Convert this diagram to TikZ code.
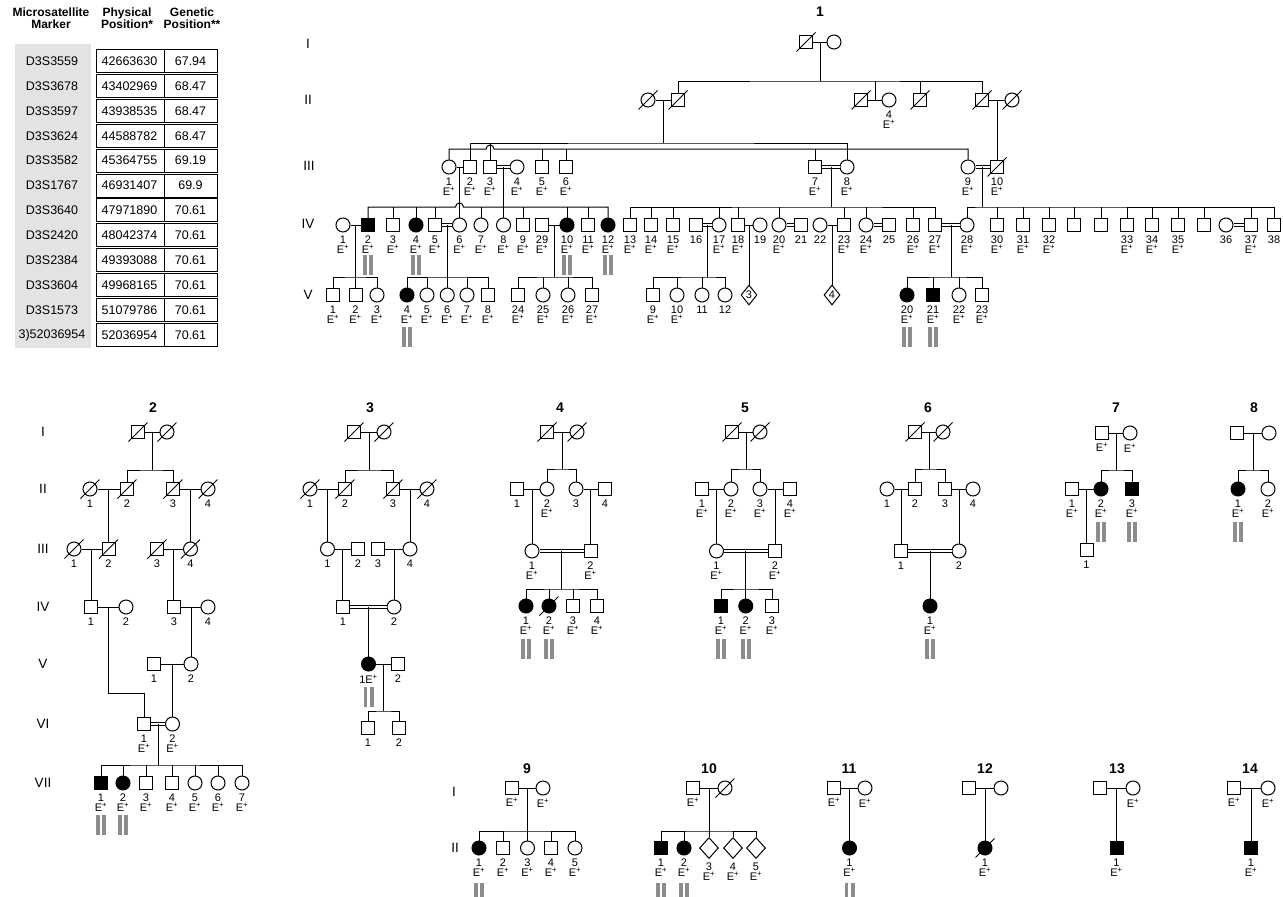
\documentclass[tikz,border=0pt]{standalone}
\usepackage{fontspec}
\setmainfont{Liberation Sans}
\usetikzlibrary{shapes.geometric,calc}
\newcommand{\Ep}{E\textsuperscript{+}}
\newcommand{\deceased}[1]{\draw ([shift={(-9.5,9.5)}]#1.center) -- ([shift={(9.5,-9.5)}]#1.center);}
\newcommand{\grbars}[2][32]{%
  \fill[bar] ([shift={(-5,#1)}]#2.center) rectangle ++(3.8,20);
  \fill[bar] ([shift={(1.2,#1)}]#2.center) rectangle ++(3.8,20);}

\begin{document}
\begin{tikzpicture}[x=1pt, y=-1pt, line width=1pt, label distance=2.5pt,
  every node/.style={font=\fontsize{11}{10}\selectfont},
  male/.style={draw, rectangle, minimum size=13, inner sep=0},
  fem/.style={draw, circle, minimum size=14, inner sep=0},
  unk/.style={draw, diamond, minimum width=16, minimum height=20, inner sep=0},
  aff/.style={fill=black},
  lab/.style={align=center, inner sep=0.5pt},
  id/.style={label={[lab]below:#1}},
  cons/.style={double, double distance=1.6pt},
  gen/.style={font=\fontsize{13.5}{13.5}\selectfont},
  ttl/.style={font=\bfseries\fontsize{14}{14}\selectfont},
  hdr/.style={align=center, font=\bfseries\fontsize{12}{12.5}\selectfont},
  cell/.style={font=\fontsize{12.5}{12.5}\selectfont},
  bar/.style={fill=black!45}]
\useasboundingbox (0,0) rectangle (1283,897);

% marker table
\fill[gray!22] (15,44) rectangle (91,348);
\node[hdr] (tb-h1) at (51,18) {Microsatellite\\Marker};
\node[hdr] (tb-h2) at (127,18) {Physical\\Position*};
\node[hdr] (tb-h3) at (192,18) {Genetic\\Position**};
\foreach \mk/\ph/\gp [count=\i from 0] in {D3S3559/42663630/67.94, D3S3678/43402969/68.47,
    D3S3597/43938535/68.47, D3S3624/44588782/68.47, D3S3582/45364755/69.19,
    D3S1767/46931407/69.9, D3S3640/47971890/70.61, D3S2420/48042374/70.61,
    D3S2384/49393088/70.61, D3S3604/49968165/70.61, D3S1573/51079786/70.61,
    3)52036954/52036954/70.61} {
  \draw (96,{49.5+24.9*\i}) rectangle (217,{72.5+24.9*\i});
  \draw (164,{49.5+24.9*\i}) -- (164,{72.5+24.9*\i});
  \node[cell] (tb-m\i) at (52,{61+24.9*\i}) {\mk};
  \node[cell] (tb-p\i) at (129.5,{61+24.9*\i}) {\ph};
  \node[cell] (tb-g\i) at (190.5,{61+24.9*\i}) {\gp};
}

% pedigree 1
\node[ttl] (p1-t) at (820,12) {1};
\node[gen] (p1-gI) at (308,44) {I};
\node[gen] (p1-gII) at (308,100) {II};
\node[gen] (p1-gIII) at (309,166) {III};
\node[gen] (p1-gIV) at (308,224) {IV};
\node[gen] (p1-gV) at (308,295) {V};

\node[male] (p1-I-1) at (806,42) {}; \deceased{p1-I-1}
\node[fem] (p1-I-2) at (834,42) {};

\node[fem] (p1-II-1) at (648,100) {};
\node[male] (p1-II-2) at (678,100) {};
\node[male] (p1-II-3) at (861,100) {};
\node[fem, id={4\\\Ep}] (p1-II-4) at (889,100) {};
\node[male] (p1-II-5) at (920,100) {};
\node[male] (p1-II-6) at (982,100) {};
\node[fem] (p1-II-7) at (1012,100) {};
\foreach \p in {p1-II-1,p1-II-2,p1-II-3,p1-II-5,p1-II-6,p1-II-7} {\deceased{\p}}

\draw (p1-I-1) -- (p1-I-2);
\coordinate (p1-m1) at ($(p1-I-1)!.5!(p1-I-2)$);
\draw (p1-m1) -- (p1-m1 |- 0,81);
\draw (p1-II-2.north) |- (p1-m1 |- 0,81) -| (p1-II-6.north);
\draw (p1-II-5.north) -- (p1-II-5.north |- 0,81);
\draw (p1-II-1) -- (p1-II-2);
\draw (p1-II-3) -- (p1-II-4);
\draw (p1-II-6) -- (p1-II-7);
\coordinate (p1-m2) at ($(p1-II-3)!.5!(p1-II-4)$);
\draw (p1-m2) -- (p1-m2 |- 0,81);

\node[fem, id={1\\\Ep}] (p1-III-1) at (449,167) {};
\node[male, id={2\\\Ep}] (p1-III-2) at (470,167) {};
\node[male, id={3\\\Ep}] (p1-III-3) at (490,167) {};
\node[fem, id={4\\\Ep}] (p1-III-4) at (517,167) {};
\node[male, id={5\\\Ep}] (p1-III-5) at (542,167) {};
\node[male, id={6\\\Ep}] (p1-III-6) at (566,167) {};
\node[male, id={7\\\Ep}] (p1-III-7) at (815,167) {};
\node[fem, id={8\\\Ep}] (p1-III-8) at (847,167) {};
\node[fem, id={9\\\Ep}] (p1-III-9) at (968,167) {};
\node[male, id={10\\\Ep}] (p1-III-10) at (997,167) {}; \deceased{p1-III-10}

\coordinate (p1-m3) at ($(p1-II-1)!.5!(p1-II-2)$);
\draw (p1-m3) -- (p1-m3 |- 0,143);
\draw (p1-III-2.north) |- (p1-m3 |- 0,143) -| (p1-III-8.north);
\draw (p1-III-3.north) -- (p1-III-3.north |- 0,143);
\draw (p1-III-1.north) |- ([xshift=-4pt]p1-III-3.north |- 0,149)
  arc[start angle=180, end angle=0, radius=4pt] -| (p1-III-9.north);
\foreach \c in {p1-III-5,p1-III-6,p1-III-7} \draw (\c.north) -- (\c.north |- 0,149);
\coordinate (p1-m4) at ($(p1-II-6)!.5!(p1-II-7)$);
\draw (p1-m4) -- (p1-m4 |- p1-III-10.north);
\draw (p1-III-1) -- (p1-III-2);
\draw[cons] (p1-III-3) -- (p1-III-4);
\draw[cons] (p1-III-7) -- (p1-III-8);
\draw[cons] (p1-III-9) -- (p1-III-10);

% generation IV
\node[fem, id={1\\\Ep}] (p1-IV-1) at (343,225) {};
\node[male, aff, id={2\\\Ep}] (p1-IV-2) at (368,225) {};
\node[male, id={3\\\Ep}] (p1-IV-3) at (393,225) {};
\node[fem, aff, id={4\\\Ep}] (p1-IV-4) at (416,225) {};
\node[male, id={5\\\Ep}] (p1-IV-5) at (435,225) {};
\node[fem, id={6\\\Ep}] (p1-IV-6) at (459.5,225) {};
\node[fem, id={7\\\Ep}] (p1-IV-7) at (481,225) {};
\node[fem, id={8\\\Ep}] (p1-IV-8) at (503.5,225) {};
\node[male, id={9\\\Ep}] (p1-IV-9) at (523,225) {};
\node[male, id={29\\\Ep}] (p1-IV-29) at (542,225) {};
\node[fem, aff, id={10\\\Ep}] (p1-IV-10) at (567,225) {};
\node[male, id={11\\\Ep}] (p1-IV-11) at (588,225) {};
\node[fem, aff, id={12\\\Ep}] (p1-IV-12) at (608,225) {};
\foreach \p in {p1-IV-2,p1-IV-4,p1-IV-10,p1-IV-12} {\grbars[30]{\p}}

\coordinate (p1-m5) at ($(p1-III-3)!.5!(p1-III-4)$);
\draw (p1-m5) -- (p1-IV-8.north);
\draw (p1-IV-2.north) |- ([xshift=-4pt]p1-IV-6.north |- 0,207)
  arc[start angle=180, end angle=0, radius=4pt] -| (p1-IV-12.north);
\foreach \c in {3,4,5,7,9,10,11} \draw (p1-IV-\c.north) -- (p1-IV-\c.north |- 0,207);
\coordinate (p1-m6) at ($(p1-III-1)!.5!(p1-III-2)$);
\draw (p1-m6) -- (p1-IV-6.north);
\draw (p1-IV-1) -- (p1-IV-2);
\draw[cons] (p1-IV-5) -- (p1-IV-6);
\draw (p1-IV-29) -- (p1-IV-10);

\node[male, id={13\\\Ep}] (p1-IV-13) at (630,225) {};
\node[male, id={14\\\Ep}] (p1-IV-14) at (651,225) {};
\node[male, id={15\\\Ep}] (p1-IV-15) at (673,225) {};
\node[male, id={16}] (p1-IV-16) at (696,225) {};
\node[fem, id={17\\\Ep}] (p1-IV-17) at (719,225) {};
\node[male, id={18\\\Ep}] (p1-IV-18) at (738,225) {};
\node[fem, id={19}] (p1-IV-19) at (760,225) {};
\node[fem, id={20\\\Ep}] (p1-IV-20) at (779,225) {};
\node[male, id={21}] (p1-IV-21) at (801,225) {};
\node[fem, id={22}] (p1-IV-22) at (820,225) {};
\node[male, id={23\\\Ep}] (p1-IV-23) at (844,225) {};
\node[fem, id={24\\\Ep}] (p1-IV-24) at (866,225) {};
\node[male, id={25}] (p1-IV-25) at (889,225) {};
\node[male, id={26\\\Ep}] (p1-IV-26) at (913,225) {};
\node[male, id={27\\\Ep}] (p1-IV-27) at (935,225) {};

\coordinate (p1-m7) at ($(p1-III-7)!.5!(p1-III-8)$);
\draw (p1-m7) -- (p1-m7 |- 0,207);
\draw (p1-IV-13.north) |- (p1-m7 |- 0,207) -| (p1-IV-27.north);
\foreach \c in {14,15,17,18,20,23,24,26} \draw (p1-IV-\c.north) -- (p1-IV-\c.north |- 0,207);
\draw[cons] (p1-IV-16) -- (p1-IV-17);
\draw (p1-IV-18) -- (p1-IV-19);
\draw[cons] (p1-IV-20) -- (p1-IV-21);
\draw (p1-IV-22) -- (p1-IV-23);
\draw[cons] (p1-IV-24) -- (p1-IV-25);

\node[fem, id={28\\\Ep}] (p1-IV-28) at (967,225) {};
\node[male, id={30\\\Ep}] (p1-IV-30) at (997,225) {};
\node[male, id={31\\\Ep}] (p1-IV-31) at (1023,225) {};
\node[male, id={32\\\Ep}] (p1-IV-32) at (1049,225) {};
\node[male] (p1-IV-a) at (1074,225) {};
\node[male] (p1-IV-b) at (1101,225) {};
\node[male, id={33\\\Ep}] (p1-IV-33) at (1127,225) {};
\node[male, id={34\\\Ep}] (p1-IV-34) at (1152,225) {};
\node[male, id={35\\\Ep}] (p1-IV-35) at (1178,225) {};
\node[male] (p1-IV-c) at (1204,225) {};
\node[fem, id={36}] (p1-IV-36) at (1226,225) {};
\node[male, id={37\\\Ep}] (p1-IV-37) at (1251,225) {};
\node[male, id={38}] (p1-IV-38) at (1274,225) {};

\coordinate (p1-m8) at ($(p1-III-9)!.5!(p1-III-10)$);
\draw (p1-m8) -- (p1-m8 |- 0,207);
\draw (p1-IV-28.north) |- (p1-m8 |- 0,207) -| (p1-IV-38.north);
\foreach \c in {30,31,32,a,b,33,34,35,c,37} \draw (p1-IV-\c.north) -- (p1-IV-\c.north |- 0,207);
\draw[cons] (p1-IV-27) -- (p1-IV-28);
\draw[cons] (p1-IV-36) -- (p1-IV-37);

% generation V
\node[male, id={1\\\Ep}] (p1-V-1) at (333,295) {};
\node[male, id={2\\\Ep}] (p1-V-2) at (355.5,295) {};
\node[fem, id={3\\\Ep}] (p1-V-3) at (377,295) {};
\coordinate (p1-m9) at ($(p1-IV-1)!.5!(p1-IV-2)$);
\draw (p1-m9) -- (p1-V-2.north);
\draw (p1-V-1.north) |- (p1-m9 |- 0,277) -| (p1-V-3.north);

\node[fem, aff, id={4\\\Ep}] (p1-V-4) at (407,295) {};
\node[fem, id={5\\\Ep}] (p1-V-5) at (427,295) {};
\node[fem, id={6\\\Ep}] (p1-V-6) at (447.25,295) {};
\node[fem, id={7\\\Ep}] (p1-V-7) at (467,295) {};
\node[male, id={8\\\Ep}] (p1-V-8) at (488,295) {};
\coordinate (p1-m10) at ($(p1-IV-5)!.5!(p1-IV-6)$);
\draw (p1-m10) -- (p1-V-6.north);
\draw (p1-V-4.north) |- (p1-m10 |- 0,277) -| (p1-V-8.north);
\foreach \c in {5,7} \draw (p1-V-\c.north) -- (p1-V-\c.north |- 0,277);
\grbars{p1-V-4}

\node[male, id={24\\\Ep}] (p1-V-24) at (518,295) {};
\node[fem, id={25\\\Ep}] (p1-V-25) at (543,295) {};
\node[fem, id={26\\\Ep}] (p1-V-26) at (568,295) {};
\node[male, id={27\\\Ep}] (p1-V-27) at (592,295) {};
\coordinate (p1-m11) at ($(p1-IV-29)!.5!(p1-IV-10)$);
\draw (p1-m11) -- (p1-m11 |- 0,277);
\draw (p1-V-24.north) |- (p1-m11 |- 0,277) -| (p1-V-27.north);
\foreach \c in {25,26} \draw (p1-V-\c.north) -- (p1-V-\c.north |- 0,277);

\node[male, id={9\\\Ep}] (p1-V-9) at (653,295) {};
\node[fem, id={10\\\Ep}] (p1-V-10) at (677,295) {};
\node[fem, id={11}] (p1-V-11) at (702,295) {};
\node[fem, id={12}] (p1-V-12) at (725,295) {};
\coordinate (p1-m12) at ($(p1-IV-16)!.5!(p1-IV-17)$);
\draw (p1-m12) -- (p1-m12 |- 0,277);
\draw (p1-V-9.north) |- (p1-m12 |- 0,277) -| (p1-V-12.north);
\foreach \c in {10,11} \draw (p1-V-\c.north) -- (p1-V-\c.north |- 0,277);

\node[unk] (p1-V-d3) at (749,295) {3};
\coordinate (p1-m13) at ($(p1-IV-18)!.5!(p1-IV-19)$);
\draw (p1-m13) -- (p1-V-d3.north);
\node[unk] (p1-V-d4) at (832,295) {4};
\coordinate (p1-m14) at ($(p1-IV-22)!.5!(p1-IV-23)$);
\draw (p1-m14) -- (p1-V-d4.north);

\node[fem, aff, id={20\\\Ep}] (p1-V-20) at (907,295) {};
\node[male, aff, id={21\\\Ep}] (p1-V-21) at (933,295) {};
\node[fem, id={22\\\Ep}] (p1-V-22) at (959,295) {};
\node[male, id={23\\\Ep}] (p1-V-23) at (982,295) {};
\coordinate (p1-m15) at ($(p1-IV-27)!.5!(p1-IV-28)$);
\draw (p1-m15) -- (p1-m15 |- 0,277);
\draw (p1-V-20.north) |- (p1-m15 |- 0,277) -| (p1-V-23.north);
\foreach \c in {21,22} \draw (p1-V-\c.north) -- (p1-V-\c.north |- 0,277);
\grbars{p1-V-20} \grbars{p1-V-21}

% pedigree 2
\node[ttl] (p2-t) at (153,408) {2};
\node[gen] (p2-gI) at (43,432) {I};
\node[gen] (p2-gII) at (43,489) {II};
\node[gen] (p2-gIII) at (43,549) {III};
\node[gen] (p2-gIV) at (43,607) {IV};
\node[gen] (p2-gV) at (43,664) {V};
\node[gen] (p2-gVI) at (43,724) {VI};
\node[gen] (p2-gVII) at (43,783) {VII};

\node[male] (p2-I-1) at (138,432) {};
\node[fem] (p2-I-2) at (167,432) {};
\node[fem, id=1] (p2-II-1) at (90,489) {};
\node[male, id=2] (p2-II-2) at (127,489) {};
\node[male, id=3] (p2-II-3) at (173,489) {};
\node[fem, id=4] (p2-II-4) at (208,489) {};
\node[fem, id=1] (p2-III-1) at (74,549) {};
\node[male, id=2] (p2-III-2) at (108.5,549) {};
\node[male, id=3] (p2-III-3) at (157,549) {};
\node[fem, id=4] (p2-III-4) at (190.5,549) {};
\foreach \p in {p2-I-1,p2-I-2,p2-II-1,p2-II-2,p2-II-3,p2-II-4,p2-III-1,p2-III-2,p2-III-3,p2-III-4} {\deceased{\p}}
\node[male, id=1] (p2-IV-1) at (91,607) {};
\node[fem, id=2] (p2-IV-2) at (126,607) {};
\node[male, id=3] (p2-IV-3) at (174,607) {};
\node[fem, id=4] (p2-IV-4) at (208,607) {};
\node[male, id=1] (p2-V-1) at (154,664) {};
\node[fem, id=2] (p2-V-2) at (191,664) {};
\node[male, id={1\\\Ep}] (p2-VI-1) at (144,724) {};
\node[fem, id={2\\\Ep}] (p2-VI-2) at (172.5,724) {};
\node[male, aff, id={1\\\Ep}] (p2-VII-1) at (101,783) {};
\node[fem, aff, id={2\\\Ep}] (p2-VII-2) at (123,783) {};
\node[male, id={3\\\Ep}] (p2-VII-3) at (146,783) {};
\node[male, id={4\\\Ep}] (p2-VII-4) at (172,783) {};
\node[fem, id={5\\\Ep}] (p2-VII-5) at (195,783) {};
\node[fem, id={6\\\Ep}] (p2-VII-6) at (218,783) {};
\node[fem, id={7\\\Ep}] (p2-VII-7) at (242,783) {};
\grbars{p2-VII-1} \grbars{p2-VII-2}

\draw (p2-I-1) -- (p2-I-2);
\coordinate (p2-m1) at ($(p2-I-1)!.5!(p2-I-2)$);
\draw (p2-m1) -- (p2-m1 |- 0,470);
\draw (p2-II-2.north) |- (p2-m1 |- 0,470) -| (p2-II-3.north);
\draw (p2-II-1) -- (p2-II-2);
\draw (p2-II-3) -- (p2-II-4);
\coordinate (p2-m2) at ($(p2-II-1)!.5!(p2-II-2)$);
\draw (p2-m2) -- (p2-III-2.north);
\coordinate (p2-m3) at ($(p2-II-3)!.5!(p2-II-4)$);
\draw (p2-m3) -- (p2-III-4.north);
\draw (p2-III-1) -- (p2-III-2);
\draw (p2-III-3) -- (p2-III-4);
\coordinate (p2-m4) at ($(p2-III-1)!.5!(p2-III-2)$);
\draw (p2-m4) -- (p2-m4 |- p2-IV-1.north);
\coordinate (p2-m5) at ($(p2-III-3)!.5!(p2-III-4)$);
\draw (p2-m5) -- (p2-m5 |- p2-IV-3.north);
\draw (p2-IV-1) -- (p2-IV-2);
\draw (p2-IV-3) -- (p2-IV-4);
\coordinate (p2-m6) at ($(p2-IV-1)!.5!(p2-IV-2)$);
\draw (p2-m6) -- (p2-m6 |- 0,693) -| (p2-VI-1.north);
\coordinate (p2-m7) at ($(p2-IV-3)!.5!(p2-IV-4)$);
\draw (p2-m7) -- (p2-V-2.north);
\draw (p2-V-1) -- (p2-V-2);
\coordinate (p2-m8) at ($(p2-V-1)!.5!(p2-V-2)$);
\draw (p2-m8) -- (p2-VI-2.north);
\draw[cons] (p2-VI-1) -- (p2-VI-2);
\coordinate (p2-m9) at ($(p2-VI-1)!.5!(p2-VI-2)$);
\draw (p2-m9) -- (p2-m9 |- 0,765);
\draw (p2-VII-1.north) |- (p2-m9 |- 0,765) -| (p2-VII-7.north);
\foreach \c in {2,3,4,5,6} \draw (p2-VII-\c.north) -- (p2-VII-\c.north |- 0,765);

% pedigree 3
\node[ttl] (p3-t) at (370,408) {3};
\node[male] (p3-I-1) at (354,432) {};
\node[fem] (p3-I-2) at (384,432) {};
\node[fem, id=1] (p3-II-1) at (310,489) {};
\node[male, id=2] (p3-II-2) at (345,489) {};
\node[male, id=3] (p3-II-3) at (393,489) {};
\node[fem, id=4] (p3-II-4) at (427,489) {};
\foreach \p in {p3-I-1,p3-I-2,p3-II-1,p3-II-2,p3-II-3,p3-II-4} {\deceased{\p}}
\node[fem, id=1] (p3-III-1) at (327.5,549) {};
\node[male, id=2] (p3-III-2) at (358,549) {};
\node[male, id=3] (p3-III-3) at (378,549) {};
\node[fem, id=4] (p3-III-4) at (410,549) {};
\node[male, id=1] (p3-IV-1) at (343,607) {};
\node[fem, id=2] (p3-IV-2) at (394,607) {};
\node[fem, aff, id={1\Ep}] (p3-V-1) at (368.5,664) {};
\node[male, id=2] (p3-V-2) at (398,664) {};
\node[male, id=1] (p3-VI-1) at (368,728) {};
\node[male, id=2] (p3-VI-2) at (399,728) {};
\grbars[23]{p3-V-1}

\draw (p3-I-1) -- (p3-I-2);
\coordinate (p3-m1) at ($(p3-I-1)!.5!(p3-I-2)$);
\draw (p3-m1) -- (p3-m1 |- 0,470);
\draw (p3-II-2.north) |- (p3-m1 |- 0,470) -| (p3-II-3.north);
\draw (p3-II-1) -- (p3-II-2);
\draw (p3-II-3) -- (p3-II-4);
\coordinate (p3-m2) at ($(p3-II-1)!.5!(p3-II-2)$);
\draw (p3-m2) -- (p3-III-1.north);
\coordinate (p3-m3) at ($(p3-II-3)!.5!(p3-II-4)$);
\draw (p3-m3) -- (p3-III-4.north);
\draw (p3-III-1) -- (p3-III-2);
\draw (p3-III-3) -- (p3-III-4);
\coordinate (p3-m4) at ($(p3-III-1)!.5!(p3-III-2)$);
\draw (p3-m4) -- (p3-m4 |- p3-IV-1.north);
\coordinate (p3-m5) at ($(p3-III-3)!.5!(p3-III-4)$);
\draw (p3-m5) -- (p3-m5 |- p3-IV-2.north);
\draw[cons] (p3-IV-1) -- (p3-IV-2);
\coordinate (p3-m6) at ($(p3-IV-1)!.5!(p3-IV-2)$);
\draw (p3-m6) -- (p3-V-1.north);
\draw (p3-V-1) -- (p3-V-2);
\coordinate (p3-m7) at ($(p3-V-1)!.5!(p3-V-2)$);
\draw (p3-m7) -- (p3-m7 |- 0,711);
\draw (p3-VI-1.north) |- (p3-m7 |- 0,711) -| (p3-VI-2.north);

% pedigrees 4 and 5
\node[ttl] (p4-t) at (560,408) {4};
\node[male] (p4-I-1) at (547,432) {};
\node[fem] (p4-I-2) at (577,432) {};
\deceased{p4-I-1} \deceased{p4-I-2}
\node[male, id=1] (p4-II-1) at (517,489) {};
\node[fem, id={2\\\Ep}] (p4-II-2) at (547,489) {};
\node[fem, id=3] (p4-II-3) at (576,489) {};
\node[male, id=4] (p4-II-4) at (605,489) {};
\node[fem, id={1\\\Ep}] (p4-III-1) at (532,551) {};
\node[male, id={2\\\Ep}] (p4-III-2) at (590.5,551) {};
\node[fem, aff, id={1\\\Ep}] (p4-IV-1) at (526,606) {};
\node[fem, aff, id={2\\\Ep}] (p4-IV-2) at (549,606) {};
\node[male, id={3\\\Ep}] (p4-IV-3) at (573,606) {};
\node[male, id={4\\\Ep}] (p4-IV-4) at (597,606) {};
\deceased{p4-IV-2}
\grbars[33]{p4-IV-1} \grbars[33]{p4-IV-2}

\node[ttl] (p5-t) at (745,408) {5};
\node[male] (p5-I-1) at (732,432) {};
\node[fem] (p5-I-2) at (760,432) {};
\deceased{p5-I-1} \deceased{p5-I-2}
\node[male, id={1\\\Ep}] (p5-II-1) at (702,489) {};
\node[fem, id={2\\\Ep}] (p5-II-2) at (731,489) {};
\node[fem, id={3\\\Ep}] (p5-II-3) at (760,489) {};
\node[male, id={4\\\Ep}] (p5-II-4) at (790,489) {};
\node[fem, id={1\\\Ep}] (p5-III-1) at (716.5,551) {};
\node[male, id={2\\\Ep}] (p5-III-2) at (775,551) {};
\node[male, aff, id={1\\\Ep}] (p5-IV-1) at (721,606) {};
\node[fem, aff, id={2\\\Ep}] (p5-IV-2) at (745.75,606) {};
\node[male, id={3\\\Ep}] (p5-IV-3) at (772,606) {};
\grbars[33]{p5-IV-1} \grbars[33]{p5-IV-2}

\foreach \f in {p4,p5} {
  \draw (\f-I-1) -- (\f-I-2);
  \coordinate (\f-m1) at ($(\f-I-1)!.5!(\f-I-2)$);
  \draw (\f-m1) -- (\f-m1 |- 0,469);
  \draw (\f-II-2.north) |- (\f-m1 |- 0,469) -| (\f-II-3.north);
  \draw (\f-II-1) -- (\f-II-2);
  \draw (\f-II-3) -- (\f-II-4);
  \coordinate (\f-m2) at ($(\f-II-1)!.5!(\f-II-2)$);
  \draw (\f-m2) -- (\f-III-1.north);
  \coordinate (\f-m3) at ($(\f-II-3)!.5!(\f-II-4)$);
  \draw (\f-m3) -- (\f-III-2.north);
  \draw[cons] (\f-III-1) -- (\f-III-2);
  \coordinate (\f-m4) at ($(\f-III-1)!.5!(\f-III-2)$);
  \draw (\f-m4) -- (\f-m4 |- 0,589);
}
\draw (p4-IV-1.north) |- (p4-m4 |- 0,589) -| (p4-IV-4.north);
\foreach \c in {2,3} \draw (p4-IV-\c.north) -- (p4-IV-\c.north |- 0,589);
\draw (p5-IV-1.north) |- (p5-m4 |- 0,589) -| (p5-IV-3.north);
\draw (p5-IV-2.north) -- (p5-IV-2.north |- 0,589);

% pedigree 6
\node[ttl] (p6-t) at (928,408) {6};
\node[male] (p6-I-1) at (915,432) {};
\node[fem] (p6-I-2) at (943,432) {};
\deceased{p6-I-1} \deceased{p6-I-2}
\node[fem, id=1] (p6-II-1) at (887,489) {};
\node[male, id=2] (p6-II-2) at (915,489) {};
\node[male, id=3] (p6-II-3) at (945,489) {};
\node[fem, id=4] (p6-II-4) at (973,489) {};
\node[male, id=1] (p6-III-1) at (901,551) {};
\node[fem, id=2] (p6-III-2) at (959,551) {};
\node[fem, aff, id={1\\\Ep}] (p6-IV-1) at (930,606) {};
\grbars[33]{p6-IV-1}
\draw (p6-I-1) -- (p6-I-2);
\coordinate (p6-m1) at ($(p6-I-1)!.5!(p6-I-2)$);
\draw (p6-m1) -- (p6-m1 |- 0,469);
\draw (p6-II-2.north) |- (p6-m1 |- 0,469) -| (p6-II-3.north);
\draw (p6-II-1) -- (p6-II-2);
\draw (p6-II-3) -- (p6-II-4);
\coordinate (p6-m2) at ($(p6-II-1)!.5!(p6-II-2)$);
\draw (p6-m2) -- (p6-III-1.north);
\coordinate (p6-m3) at ($(p6-II-3)!.5!(p6-II-4)$);
\draw (p6-m3) -- (p6-III-2.north);
\draw[cons] (p6-III-1) -- (p6-III-2);
\coordinate (p6-m4) at ($(p6-III-1)!.5!(p6-III-2)$);
\draw (p6-m4) -- (p6-IV-1.north);

% pedigrees 7 and 8
\node[ttl] (p7-t) at (1116,408) {7};
\node[male, id=\Ep] (p7-I-1) at (1102,433) {};
\node[fem, id=\Ep] (p7-I-2) at (1130,433) {};
\node[male, id={1\\\Ep}] (p7-II-1) at (1072,489) {};
\node[fem, aff, id={2\\\Ep}] (p7-II-2) at (1101,489) {};
\node[male, aff, id={3\\\Ep}] (p7-II-3) at (1132,489) {};
\node[male, id=1] (p7-III-1) at (1086.5,550) {};
\grbars[33]{p7-II-2} \grbars[33]{p7-II-3}
\draw (p7-I-1) -- (p7-I-2);
\coordinate (p7-m1) at ($(p7-I-1)!.5!(p7-I-2)$);
\draw (p7-m1) -- (p7-m1 |- 0,470);
\draw (p7-II-2.north) |- (p7-m1 |- 0,470) -| (p7-II-3.north);
\draw (p7-II-1) -- (p7-II-2);
\coordinate (p7-m2) at ($(p7-II-1)!.5!(p7-II-2)$);
\draw (p7-m2) -- (p7-III-1.north);

\node[ttl] (p8-t) at (1254,408) {8};
\node[male] (p8-I-1) at (1237,433) {};
\node[fem] (p8-I-2) at (1269,433) {};
\node[fem, aff, id={1\\\Ep}] (p8-II-1) at (1238,489) {};
\node[fem, id={2\\\Ep}] (p8-II-2) at (1268,489) {};
\grbars[33]{p8-II-1}
\draw (p8-I-1) -- (p8-I-2);
\coordinate (p8-m1) at ($(p8-I-1)!.5!(p8-I-2)$);
\draw (p8-m1) -- (p8-m1 |- 0,470);
\draw (p8-II-1.north) |- (p8-m1 |- 0,470) -| (p8-II-2.north);

% bottom row: pedigrees 9 to 14
\node[gen] (p9-gI) at (454,792) {I};
\node[gen] (p9-gII) at (455,848) {II};

\node[ttl] (p9-t) at (527,769) {9};
\node[male, id=\Ep] (p9-I-1) at (512,788) {};
\node[fem, id=\Ep] (p9-I-2) at (543,788) {};
\node[fem, aff, id={1\\\Ep}] (p9-II-1) at (479,848) {};
\node[male, id={2\\\Ep}] (p9-II-2) at (503,848) {};
\node[fem, id={3\\\Ep}] (p9-II-3) at (527.5,848) {};
\node[male, id={4\\\Ep}] (p9-II-4) at (551,848) {};
\node[fem, id={5\\\Ep}] (p9-II-5) at (575,848) {};
\grbars[35]{p9-II-1}
\draw (p9-I-1) -- (p9-I-2);
\coordinate (p9-m1) at ($(p9-I-1)!.5!(p9-I-2)$);
\draw (p9-m1) -- (p9-II-3.north);
\draw (p9-II-1.north) |- (p9-m1 |- 0,831) -| (p9-II-5.north);
\foreach \c in {2,4} \draw (p9-II-\c.north) -- (p9-II-\c.north |- 0,831);

\node[ttl] (p10-t) at (709,769) {10};
\node[male, id=\Ep] (p10-I-1) at (693,788) {};
\node[fem] (p10-I-2) at (725,788) {}; \deceased{p10-I-2}
\node[male, aff, id={1\\\Ep}] (p10-II-1) at (661,848) {};
\node[fem, aff, id={2\\\Ep}] (p10-II-2) at (684,848) {};
\node[unk, minimum width=19, minimum height=21, id={3\\\Ep}] (p10-II-3) at (709,848) {};
\node[unk, minimum width=19, minimum height=21, id={4\\\Ep}] (p10-II-4) at (733,848) {};
\node[unk, minimum width=19, minimum height=21, id={5\\\Ep}] (p10-II-5) at (756,848) {};
\grbars[35]{p10-II-1} \grbars[35]{p10-II-2}
\draw (p10-I-1) -- (p10-I-2);
\coordinate (p10-m1) at ($(p10-I-1)!.5!(p10-I-2)$);
\draw (p10-m1) -- (p10-II-3.north);
\draw (p10-II-1.north) |- (p10-m1 |- 0,831) -| (p10-II-5.north);
\foreach \c in {2,4} \draw (p10-II-\c.north) -- (p10-II-\c.north |- 0,831);

\node[ttl] (p11-t) at (849,769) {11};
\node[male, id=\Ep] (p11-I-1) at (834,788) {};
\node[fem, id=\Ep] (p11-I-2) at (865,788) {};
\node[fem, aff, id={1\\\Ep}] (p11-II-1) at (849.5,848) {};
\grbars[35]{p11-II-1}
\draw (p11-I-1) -- (p11-I-2);
\coordinate (p11-m1) at ($(p11-I-1)!.5!(p11-I-2)$);
\draw (p11-m1) -- (p11-II-1.north);

\node[ttl] (p12-t) at (985,769) {12};
\node[male] (p12-I-1) at (969,788) {};
\node[fem] (p12-I-2) at (1001,788) {};
\node[fem, aff, id={1\\\Ep}] (p12-II-1) at (985,848) {}; \deceased{p12-II-1}
\draw (p12-I-1) -- (p12-I-2);
\coordinate (p12-m1) at ($(p12-I-1)!.5!(p12-I-2)$);
\draw (p12-m1) -- (p12-II-1.north);

\node[ttl] (p13-t) at (1117,769) {13};
\node[male] (p13-I-1) at (1100,788) {};
\node[fem, id=\Ep] (p13-I-2) at (1133,788) {};
\node[male, aff, id={1\\\Ep}] (p13-II-1) at (1116.5,848) {};
\draw (p13-I-1) -- (p13-I-2);
\coordinate (p13-m1) at ($(p13-I-1)!.5!(p13-I-2)$);
\draw (p13-m1) -- (p13-II-1.north);

\node[ttl] (p14-t) at (1250,769) {14};
\node[male, id=\Ep] (p14-I-1) at (1234,788) {};
\node[fem, id=\Ep] (p14-I-2) at (1268,788) {};
\node[male, aff, id={1\\\Ep}] (p14-II-1) at (1251,848) {};
\draw (p14-I-1) -- (p14-I-2);
\coordinate (p14-m1) at ($(p14-I-1)!.5!(p14-I-2)$);
\draw (p14-m1) -- (p14-II-1.north);
\end{tikzpicture}
\end{document}
